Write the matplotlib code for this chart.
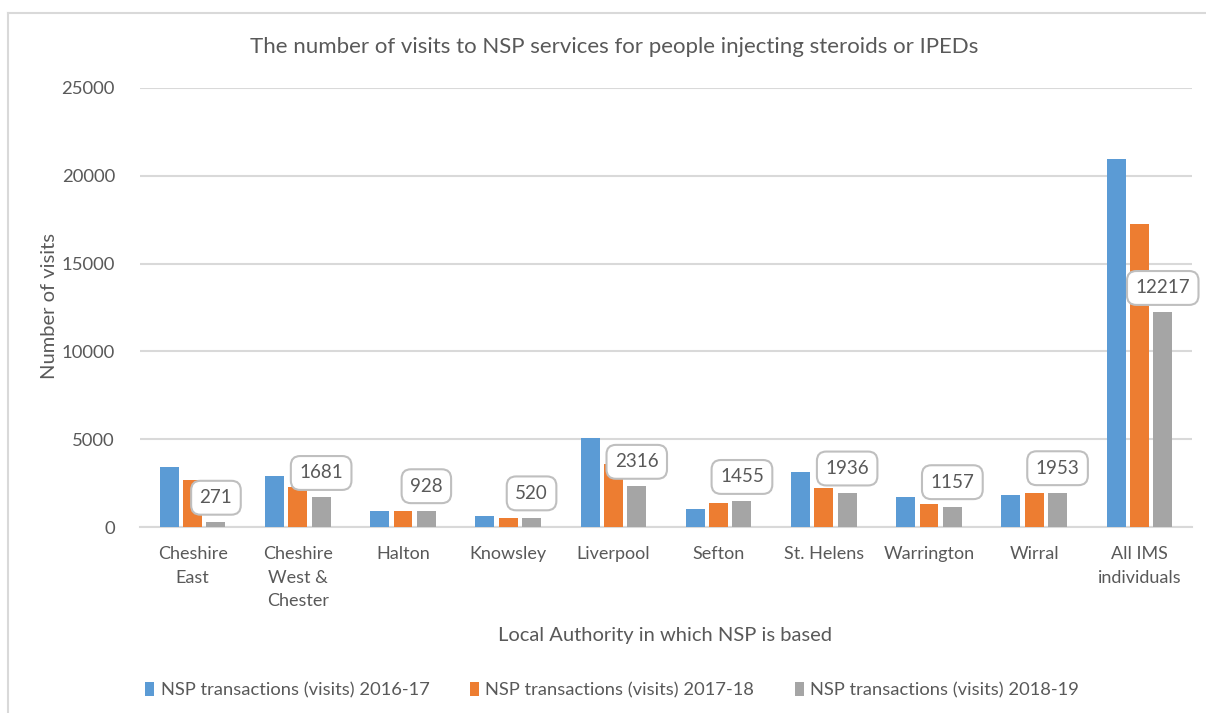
import matplotlib
matplotlib.use("Agg")
import matplotlib.pyplot as plt
import numpy as np

plt.rcParams['font.family'] = ['Lato', 'DejaVu Sans']

categories = ["Cheshire\nEast", "Cheshire\nWest &\nChester", "Halton", "Knowsley", "Liverpool",
              "Sefton", "St. Helens", "Warrington", "Wirral", "All IMS\nindividuals"]
series_names = ["NSP transactions (visits) 2016-17",
                "NSP transactions (visits) 2017-18",
                "NSP transactions (visits) 2018-19"]
v2016 = [3400, 2900, 910, 645, 5050, 1005, 3150, 1690, 1800, 20960]
v2017 = [2660, 2295, 905, 530, 3590, 1385, 2240, 1310, 1935, 17240]
v2018 = [271, 1681, 928, 520, 2316, 1455, 1936, 1157, 1953, 12217]
yticks = [0, 5000, 10000, 15000, 20000, 25000]

colors = ["#5b9bd5", "#ed7d31", "#a5a5a5"]
txt = "#595959"

W, H = 1206, 713
fig = plt.figure(figsize=(W / 100, H / 100), dpi=100)

# outer chart border (top and left visible)
fig.add_artist(plt.Line2D([8 / W, 8 / W], [0, 1 - 13 / H], color="#d9d9d9", lw=1.5,
                          transform=fig.transFigure))
fig.add_artist(plt.Line2D([8 / W, 1], [1 - 13 / H, 1 - 13 / H], color="#d9d9d9", lw=1.5,
                          transform=fig.transFigure))

ax = fig.add_axes([140 / W, (H - 527) / H, 1052 / W, 439 / H])
x = np.arange(len(categories))
step = 0.222
width = 0.18
for i, (vals, c, name) in enumerate(zip([v2016, v2017, v2018], colors, series_names)):
    ax.bar(x + (i - 1) * step, vals, width, color=c, label=name, zorder=3)

for xi, v in zip(x, v2018):
    ax.annotate(f"{v}", (xi + step, v), xytext=(0, 16), textcoords="offset pixels",
                ha="center", va="bottom", fontsize=13.5, color=txt, zorder=5,
                bbox=dict(boxstyle="round,pad=0.45,rounding_size=0.5", fc="white",
                          ec="#bfbfbf", lw=1.5))

ax.set_xlim(-0.5, len(categories) - 0.5)
ax.set_ylim(0, 25000)
ax.set_yticks(yticks)
ax.set_yticklabels([str(t) for t in yticks])
ax.set_xticks(x)
ax.set_xticklabels(categories, linespacing=1.55)
ax.tick_params(axis="x", length=0, labelsize=13, colors=txt, pad=14)
ax.tick_params(axis="y", length=0, labelsize=13.3, colors=txt, pad=18)
ax.grid(axis="y", color="#d9d9d9", lw=1.5, zorder=0)
for s in ["top", "right", "left"]:
    ax.spines[s].set_visible(False)
ax.spines["bottom"].set_color("#d9d9d9")
ax.spines["bottom"].set_linewidth(1.5)

fig.text(614 / W, 1 - 47 / H, "The number of visits to NSP services for people injecting steroids or IPEDs",
         ha="center", va="center", fontsize=16, color=txt)
fig.text(50 / W, 1 - 306 / H, "Number of visits", rotation=90, ha="center", va="center",
         fontsize=14.5, color=txt)
fig.text(665 / W, 1 - 635 / H, "Local Authority in which NSP is based", ha="center", va="center",
         fontsize=14.5, color=txt)

leg = fig.legend(loc="center", bbox_to_anchor=(612 / W, 23 / H), ncol=3, frameon=False,
                 fontsize=13.2, handlelength=0.5, handleheight=0.8, handletextpad=0.35,
                 columnspacing=2.2)
for t in leg.get_texts():
    t.set_color(txt)

fig.savefig("out.png", dpi=100)
